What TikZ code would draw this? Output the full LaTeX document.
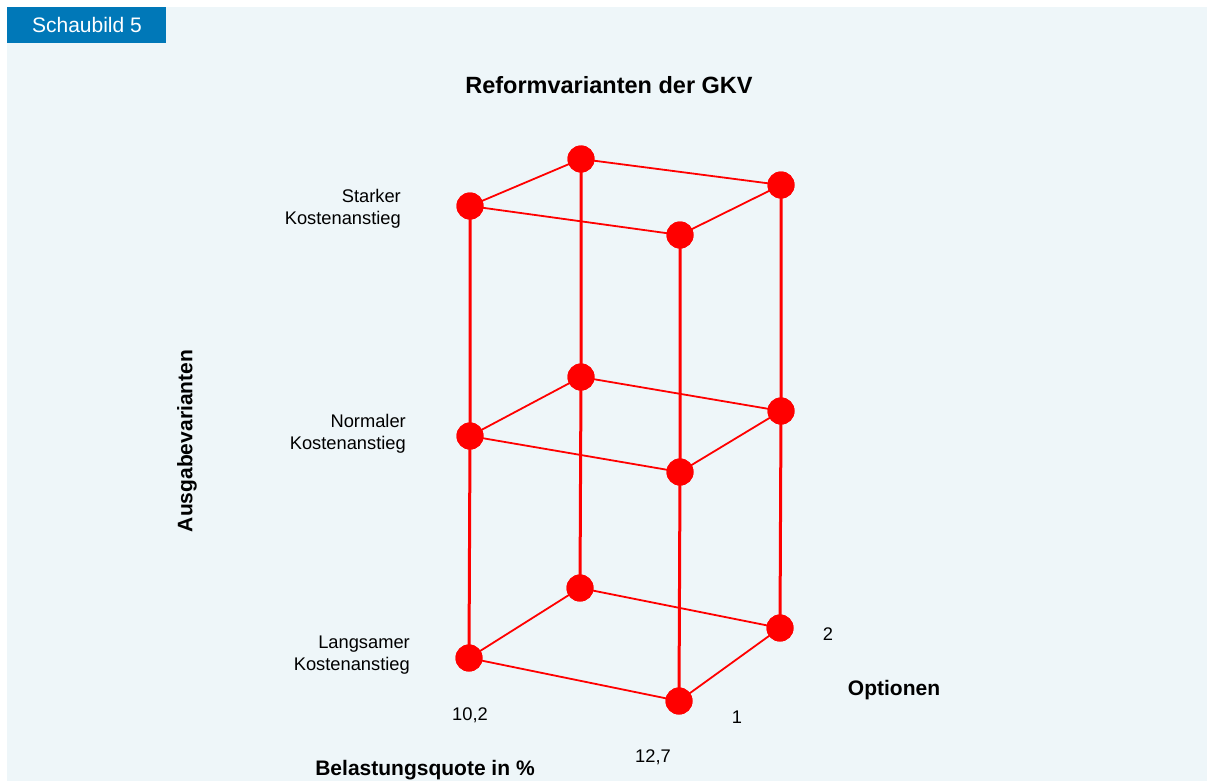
\documentclass[tikz,border=0pt]{standalone}
\usepackage{fontspec}
\setmainfont{Liberation Sans}
\definecolor{bgblue}{HTML}{EEF6F9}
\definecolor{badge}{HTML}{0078B8}
\definecolor{nred}{HTML}{FF0000}
\begin{document}
\begin{tikzpicture}[x=1pt,y=-1pt,
  dot/.style={circle,fill=nred,inner sep=0pt,minimum size=27pt},
  hedge/.style={draw=nred,line width=1.8pt},
  vedge/.style={draw=nred,line width=3pt},
  lbl/.style={font=\fontsize{18.3}{21.5}\selectfont,align=right,anchor=east,inner sep=0pt},
  num/.style={font=\fontsize{18.3}{21.5}\selectfont,inner sep=0pt},
  bold/.style={font=\fontsize{21}{25}\selectfont\bfseries,inner sep=0pt}]
\useasboundingbox (0,0) rectangle (1207,781);
\fill[white] (0,0) rectangle (1207,781);
\fill[bgblue] (7,7) rectangle (1207,781);
\fill[badge] (7,7) rectangle (166,43);
\node[font=\fontsize{21}{25}\selectfont,text=white,inner sep=0pt] (badgetxt) at (87,25) {Schaubild 5};
\node[font=\fontsize{23.5}{28}\selectfont\bfseries,inner sep=0pt] (title) at (609,85) {Reformvarianten der GKV};
% nodes
\node[dot] (flt) at (470,206) {};
\node[dot] (flm) at (470,436) {};
\node[dot] (flb) at (469,658) {};
\node[dot] (blt) at (581,159) {};
\node[dot] (blm) at (581,377) {};
\node[dot] (blb) at (580,588) {};
\node[dot] (frt) at (680,235) {};
\node[dot] (frm) at (680,472) {};
\node[dot] (frb) at (679,701) {};
\node[dot] (brt) at (781,185) {};
\node[dot] (brm) at (781,411) {};
\node[dot] (brb) at (780,628) {};
% edges (drawn, then dots redrawn on top)
\foreach \l in {t,m,b}{
  \draw[hedge] (fl\l.center) -- (bl\l.center) -- (br\l.center) -- (fr\l.center) -- cycle;
}
\foreach \c in {fl,bl,fr,br}{
  \draw[vedge] (\c b.center) -- (\c m.center) -- (\c t.center);
}
\foreach \n in {flt,flm,flb,blt,blm,blb,frt,frm,frb,brt,brm,brb}{
  \fill[nred] (\n.center) circle (13.5pt);
}
% labels
\node[lbl] (l1) at (401,209) {Starker\\Kostenanstieg};
\node[lbl] (l2) at (406,434) {Normaler\\Kostenanstieg};
\node[lbl] (l3) at (410,655) {Langsamer\\Kostenanstieg};
\node[num] (n102) at (470,715) {10,2};
\node[num] (n127) at (653,757) {12,7};
\node[num] (n1) at (737,717) {1};
\node[num] (n2) at (828,634) {2};
\node[bold] (opt) at (894,690) {Optionen};
\node[bold] (bel) at (425,770) {Belastungsquote in \%};
\node[bold,rotate=90] (ausg) at (187,441) {Ausgabevarianten};
\end{tikzpicture}
\end{document}
